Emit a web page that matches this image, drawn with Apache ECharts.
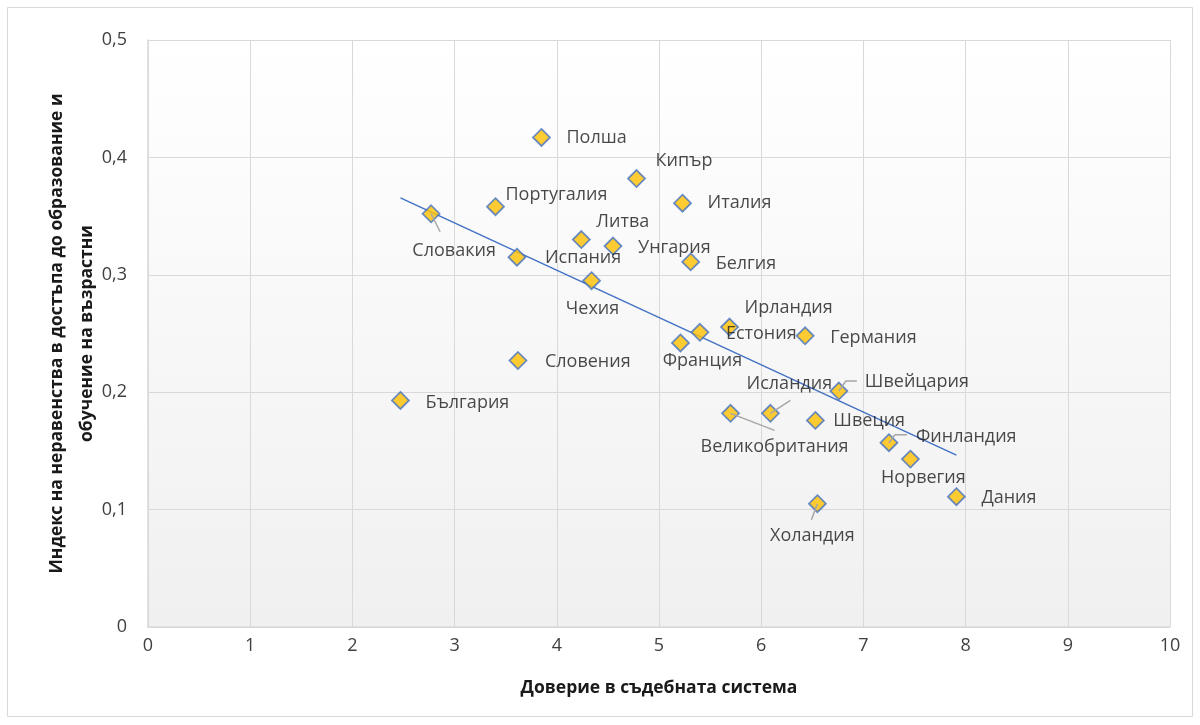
<!DOCTYPE html>
<html>
<head>
<meta charset="utf-8">
<script src="https://cdn.jsdelivr.net/npm/echarts@6/dist/echarts.min.js"></script>
<style>
html,body{margin:0;padding:0;background:#fff;}
#chart{width:1200px;height:725px;}
</style>
</head>
<body>
<div id="chart"></div>
<script>
// ---- data ----
const countries = ['Полша','Кипър','Италия','Португалия','Словакия','Литва','Унгария','Испания','Белгия','Чехия','Ирландия','Естония','Германия','Франция','Словения','Швейцария','България','Исландия','Великобритания','Швеция','Финландия','Норвегия','Дания','Холандия'];
const trust      = [3.85, 4.78, 5.23, 3.40, 2.77, 4.24, 4.55, 3.61, 5.31, 4.34, 5.69, 5.40, 6.43, 5.21, 3.62, 6.76, 2.47, 6.09, 5.70, 6.53, 7.25, 7.46, 7.91, 6.55];
const inequality = [0.417, 0.382, 0.361, 0.358, 0.352, 0.330, 0.3245, 0.315, 0.311, 0.295, 0.2555, 0.251, 0.248, 0.242, 0.227, 0.201, 0.193, 0.182, 0.182, 0.176, 0.157, 0.143, 0.111, 0.105];
const xTicks = [0,1,2,3,4,5,6,7,8,9,10];
const yTicks = ['0','0,1','0,2','0,3','0,4','0,5'];
const xTitle = 'Доверие в съдебната система';
const yTitle = 'Индекс на неравенства в достъпа до образование и\nобучение на възрастни';

// ---- label placement (pixel offsets from marker centre) ----
const labelPlace = {
  'Полша':[25,0,'left'], 'Кипър':[19,-18,'left'], 'Италия':[25,0,'left'], 'Португалия':[10,-12,'left'],
  'Словакия':[23,37,'center'], 'Литва':[15,-18,'left'], 'Унгария':[25,2,'left'], 'Испания':[28,1,'left'],
  'Белгия':[25,2,'left'], 'Чехия':[1,28,'center'], 'Ирландия':[15,-19,'left'], 'Естония':[26,2,'left'],
  'Германия':[25,2,'left'], 'Франция':[22,18,'center'], 'Словения':[27,1,'left'], 'Швейцария':[26,-9,'left'],
  'България':[25,2,'left'], 'Исландия':[19,-29,'center'], 'Великобритания':[44,34,'center'], 'Швеция':[18,0,'left'],
  'Финландия':[27,-6,'left'], 'Норвегия':[13,19,'center'], 'Дания':[25,1,'left'], 'Холандия':[-5,32,'center']
};
// leader line points (pixel offsets from marker centre)
const leaderPts = {
  'Словакия':[[0,0],[9,18]],
  'Исландия':[[0,0],[20,-13]],
  'Швейцария':[[0,0],[7,-10],[18,-10]],
  'Великобритания':[[0,0],[44,17]],
  'Финландия':[[0,0],[6,-8],[18,-8]],
  'Холандия':[[0,0],[-6,16]]
};

// ---- linear trend (least squares) ----
const n = trust.length;
const mx = trust.reduce((a,b)=>a+b,0)/n, my = inequality.reduce((a,b)=>a+b,0)/n;
let sxy=0, sxx=0;
for (let i=0;i<n;i++){ sxy += (trust[i]-mx)*(inequality[i]-my); sxx += (trust[i]-mx)**2; }
const slope = sxy/sxx, icpt = my - slope*mx;
const xMin = Math.min(...trust), xMax = Math.max(...trust);
const trendData = [[xMin, icpt+slope*xMin],[xMax, icpt+slope*xMax]];

const FONT = '"Open Sans", "Noto Sans", sans-serif';
const chart = echarts.init(document.getElementById('chart'));
const pts = countries.map((c,i)=>({name:c, value:[trust[i], inequality[i]]}));
const leaderData = countries.map((c,i)=>[trust[i], inequality[i], i]).filter(d=>leaderPts[countries[d[2]]]);

chart.setOption({
  backgroundColor:'#ffffff',
  animation:false,
  graphic:[{type:'rect', shape:{x:7.5,y:7.5,width:1185,height:709}, style:{fill:'none', stroke:'#d9d9d9', lineWidth:1}, silent:true}],
  grid:{left:148, right:30, top:40, bottom:98, show:true, borderWidth:0,
    backgroundColor:new echarts.graphic.LinearGradient(0,0,0,1,[{offset:0,color:'#ffffff'},{offset:1,color:'#f0f0f0'}])},
  xAxis:{type:'value', min:0, max:10, interval:1,
    name:xTitle, nameLocation:'middle', nameGap:52, nameMoveOverlap:false,
    nameTextStyle:{fontFamily:FONT, fontWeight:'bold', fontSize:17.5, color:'#1a1a1a'},
    axisLine:{show:true, lineStyle:{color:'#d9d9d9', width:1.5}}, axisTick:{show:false},
    axisLabel:{fontFamily:FONT, fontSize:18, color:'#404040', margin:10, formatter:(v)=>String(xTicks[v] ?? v)},
    splitLine:{show:true, lineStyle:{color:'#d9d9d9', width:1}}},
  yAxis:{type:'value', min:0, max:0.5, interval:0.1,
    name:yTitle, nameLocation:'middle', nameRotate:90, nameGap:46, nameMoveOverlap:false,
    nameTextStyle:{fontFamily:FONT, fontWeight:'bold', fontSize:17.5, color:'#1a1a1a', lineHeight:30, align:'center'},
    axisLine:{show:true, lineStyle:{color:'#d9d9d9', width:1.5}}, axisTick:{show:false},
    axisLabel:{fontFamily:FONT, fontSize:18, color:'#404040', margin:21, formatter:(v)=>yTicks[Math.round(v*10)]},
    splitLine:{show:true, lineStyle:{color:'#d9d9d9', width:1}}},
  series:[
    {type:'line', data:trendData, symbol:'none', lineStyle:{color:'#4472C4', width:1.5}, z:3, silent:true},
    {type:'scatter', data:pts, symbol:'diamond', symbolSize:17, z:4,
      itemStyle:{color:'#FFC000', borderColor:'#4472C4', borderWidth:1.75},
      label:{show:true, formatter:'{b}', fontFamily:FONT, fontSize:18, color:'#1a1a1a', position:'right'},
      labelLayout:function(p){
        const pl = labelPlace[countries[p.dataIndex]];
        const cx = p.rect.x + p.rect.width/2, cy = p.rect.y + p.rect.height/2;
        return {x: cx + pl[0], y: cy + pl[1], align: pl[2], verticalAlign:'middle'};
      }},
    {type:'custom', data:leaderData, z:5, silent:true,
      renderItem:function(params, api){
        const p = api.coord([api.value(0), api.value(1)]);
        const off = leaderPts[countries[api.value(2)]];
        return {type:'polyline', shape:{points: off.map(q=>[p[0]+q[0], p[1]+q[1]])},
          style:{stroke:'#a6a6a6', lineWidth:1.5, fill:null}};
      }}
  ]
});
</script>
</body>
</html>
